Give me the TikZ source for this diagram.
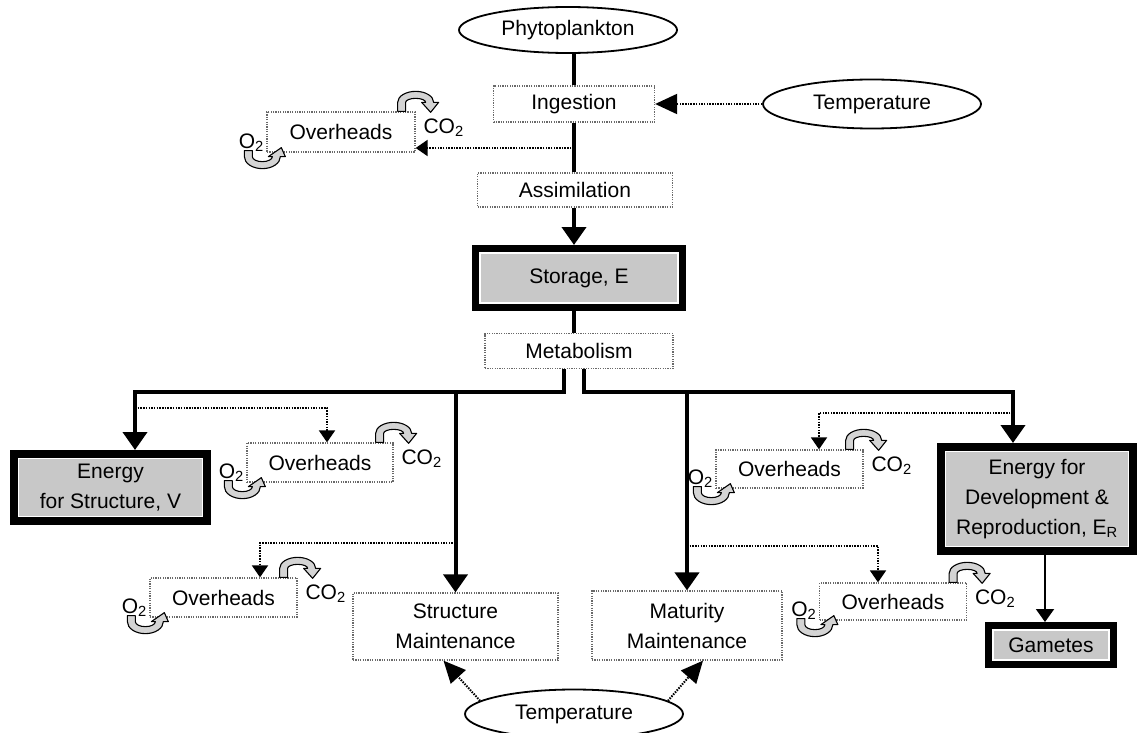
\documentclass[tikz,border=0pt]{standalone}
\usepackage{fontspec}
\setmainfont{Liberation Sans}
\usetikzlibrary{arrows.meta,shapes.geometric}
\definecolor{boxgray}{RGB}{200,200,200}
\definecolor{arrgray}{RGB}{212,212,212}
\definecolor{dotgray}{RGB}{105,105,105}
\tikzset{
  txt/.style={font=\fontsize{21}{30}\selectfont},
  lbl/.style={txt, inner sep=0pt},
  dbox/.style={txt, draw=dotgray, line width=1.3pt, dash pattern=on 1.2pt off 1.2pt, inner sep=0pt, align=center},
  tbox/.style={txt, draw=black, line width=7pt, fill=boxgray, inner sep=0pt, align=center,
    path picture={\draw[white,line width=1.6pt] ([xshift=4.6pt,yshift=-4.6pt]path picture bounding box.north west) rectangle ([xshift=-4.6pt,yshift=4.6pt]path picture bounding box.south east);}},
  oval/.style={txt, ellipse, draw=black, line width=1.8pt, inner sep=0pt},
  mainln/.style={line width=4pt},
  mainarr/.style={line width=4pt, -{Triangle[width=24pt,length=18pt]}},
  dotln/.style={line width=2pt, dash pattern=on 1.5pt off 1.2pt},
  dotarr/.style={dotln, -{Triangle[width=16pt,length=12pt]}},
  temparr/.style={dotln, -{Triangle[width=20pt,length=22pt]}},
  gamarr/.style={line width=2pt, -{Triangle[width=18pt,length=13pt]}},
  curvy/.style={fill=arrgray, draw=black, line width=1.1pt, line join=round},
  co2arr/.pic={\filldraw[curvy] (-18,0) -- (-18,-9) arc[start angle=180,end angle=360,x radius=18,y radius=11] -- (23,-9) -- (15,1) -- (6,-9) -- (10,-9) arc[start angle=360,end angle=180,x radius=10,y radius=4] -- (-10,0) -- cycle;},
  o2arr/.pic={\filldraw[curvy] (-22,-2) -- (-22,4) arc[start angle=180,end angle=0,x radius=18,y radius=12] -- (19,4) -- (15,-5) -- (2,4) -- (6,4) arc[start angle=0,end angle=180,x radius=10,y radius=5] -- (-14,-2) -- cycle;}
}
\begin{document}
\begin{tikzpicture}[x=1pt,y=-1pt]
\useasboundingbox (0,0) rectangle (1138,733);
% nodes
\node[oval, minimum width=218pt, minimum height=46pt] (phyto) at (568,30) {Phytoplankton};
\node[dbox, minimum width=161pt, minimum height=36pt] (ing) at (574,104) {Ingestion};
\node[oval, minimum width=218pt, minimum height=49pt] (tt) at (872,104) {Temperature};
\node[dbox, minimum width=148pt, minimum height=40pt] (oh1) at (341,132) {Overheads};
\node[dbox, minimum width=195pt, minimum height=34pt] (assim) at (575,190) {Assimilation};
\node[tbox, minimum width=207pt, minimum height=59pt] (st) at (579,278) {Storage, E};
\node[dbox, minimum width=188pt, minimum height=35pt] (metab) at (579,351) {Metabolism};
\node[tbox, line width=8pt, minimum width=193pt, minimum height=67pt] (es) at (110.5,487.5) {Energy\\for Structure, V};
\node[dbox, minimum width=146pt, minimum height=39pt] (oh2) at (320,462.5) {Overheads};
\node[dbox, minimum width=147pt, minimum height=39pt] (oh3) at (223.5,597.5) {Overheads};
\node[dbox, minimum width=205pt, minimum height=67pt] (sm) at (455.5,626.5) {Structure\\Maintenance};
\node[dbox, minimum width=190pt, minimum height=69pt] (mm) at (687,625.5) {Maturity\\Maintenance};
\node[oval, minimum width=218pt, minimum height=49pt] (tb) at (574,714) {Temperature};
\node[dbox, minimum width=147pt, minimum height=38pt] (oh4) at (789.5,469) {Overheads};
\node[dbox, minimum width=147pt, minimum height=37pt] (oh5) at (893,601.5) {Overheads};
\node[tbox, line width=8pt, minimum width=192pt, minimum height=104pt] (ed) at (1037,499) {Energy for\\Development \&\\Reproduction, E\textsubscript{R}};
\node[tbox, minimum width=125pt, minimum height=39pt] (gam) at (1051,645) {Gametes};
% branch coordinates
\coordinate (b1) at (574,148);
\coordinate (jl) at (564,392);
\coordinate (jr) at (584,392);
\coordinate (d2) at (135,408);
\coordinate (d3) at (455.5,543);
\coordinate (d4) at (1013,413);
\coordinate (d5) at (687,546);
% main flow
\draw[mainln] (ing.north |- phyto.south) -- (ing.north);
\draw[mainln] (ing.south) -- (ing.south |- assim.north);
\draw[mainarr] (assim.south -| ing.south) -- (st.north -| ing.south);
\draw[mainln] (st.south -| ing.south) -- (metab.north -| ing.south);
\draw[temparr] (tt.west) -- (ing.east);
\draw[dotarr] (b1) -- (b1 -| oh1.east);
\draw[mainarr] (metab.south -| jl) -- (jl) -| ([xshift=24.5pt]es.north);
\draw[mainarr] (sm.north |- jl) -- (sm.north);
\draw[mainarr] (metab.south -| jr) -- (jr) -| ([xshift=-24pt]ed.north);
\draw[mainarr] (mm.north |- jr) -- (mm.north);
\draw[dotarr] (d2) -| ([xshift=7pt]oh2.north);
\draw[dotarr] (d3) -| ([xshift=36.5pt]oh3.north);
\draw[dotarr] (d4) -| ([xshift=29.5pt]oh4.north);
\draw[dotarr] (d5) -| ([xshift=-15pt]oh5.north);
\draw[gamarr] ([xshift=8pt]ed.south) -- ([xshift=8pt]ed.south |- gam.north);
\draw[temparr] (tb.172) -- ([xshift=-12pt]sm.south);
\draw[temparr] (tb.8) -- ([xshift=16pt]mm.south);
% gas exchange labels and curved arrows
\foreach \o in {oh1,oh2,oh3,oh4,oh5}{
  \node[lbl] (co-\o) at ([xshift=28pt,yshift=-16pt]\o.north east) {CO\textsubscript{2}};
  \node[lbl] (ox-\o) at ([xshift=-15pt,yshift=10pt]\o.south west) {O\textsubscript{2}};
  \pic at (\o.north east) {co2arr};
  \pic at (\o.south west) {o2arr};
}
\end{tikzpicture}
\end{document}
